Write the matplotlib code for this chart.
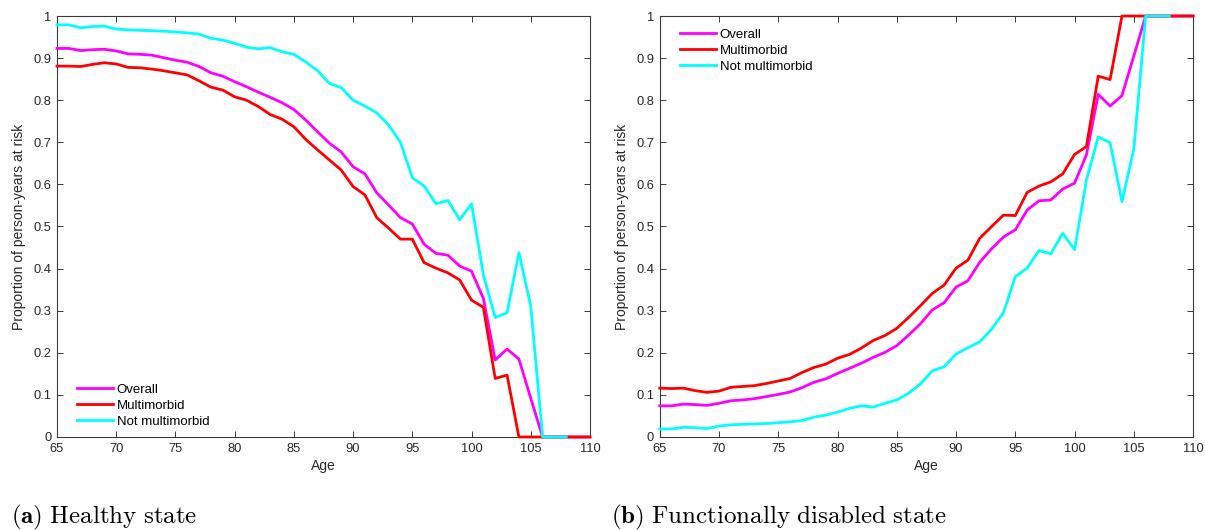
import numpy as np
import matplotlib
matplotlib.use("Agg")
import matplotlib.pyplot as plt
from matplotlib.ticker import FuncFormatter

nan = np.nan
ages = list(range(65, 111))

# (a) healthy state
healthy_overall = [0.923, 0.923, 0.918, 0.920, 0.921, 0.917, 0.910, 0.909, 0.907, 0.901,
                   0.895, 0.890, 0.880, 0.865, 0.857, 0.844, 0.832, 0.819, 0.807, 0.794,
                   0.778, 0.753, 0.725, 0.698, 0.677, 0.642, 0.625, 0.580, 0.551, 0.521,
                   0.506, 0.458, 0.436, 0.432, 0.406, 0.394, 0.329, 0.183, 0.209, 0.185,
                   0.092, 0, 0, 0, 0, 0]
healthy_multi = [0.881, 0.881, 0.880, 0.885, 0.889, 0.886, 0.878, 0.877, 0.874, 0.870,
                 0.865, 0.860, 0.846, 0.831, 0.824, 0.808, 0.800, 0.785, 0.766, 0.755,
                 0.737, 0.707, 0.682, 0.658, 0.634, 0.595, 0.575, 0.521, 0.496, 0.470,
                 0.470, 0.414, 0.401, 0.390, 0.373, 0.325, 0.308, 0.139, 0.147, 0,
                 0, 0, 0, 0, 0, 0]
healthy_notmulti = [0.979, 0.979, 0.972, 0.975, 0.976, 0.969, 0.967, 0.966, 0.965, 0.964,
                    0.962, 0.960, 0.957, 0.947, 0.943, 0.935, 0.926, 0.922, 0.925, 0.915,
                    0.909, 0.891, 0.870, 0.840, 0.830, 0.800, 0.786, 0.770, 0.741, 0.700,
                    0.616, 0.596, 0.554, 0.562, 0.516, 0.554, 0.385, 0.284, 0.295, 0.438,
                    0.311, 0, 0, 0, nan, nan]

# (b) functionally disabled state
disabled_overall = [0.074, 0.074, 0.078, 0.077, 0.075, 0.080, 0.086, 0.088, 0.091, 0.096,
                    0.101, 0.107, 0.117, 0.130, 0.138, 0.151, 0.163, 0.175, 0.189, 0.201,
                    0.217, 0.242, 0.269, 0.302, 0.319, 0.356, 0.371, 0.415, 0.447, 0.475,
                    0.492, 0.539, 0.561, 0.563, 0.589, 0.603, 0.670, 0.814, 0.786, 0.811,
                    0.905, 1, 1, 1, 1, 1]
disabled_multi = [0.116, 0.115, 0.116, 0.110, 0.106, 0.109, 0.118, 0.120, 0.122, 0.127,
                  0.133, 0.139, 0.153, 0.165, 0.173, 0.187, 0.196, 0.211, 0.229, 0.241,
                  0.258, 0.284, 0.312, 0.341, 0.361, 0.401, 0.420, 0.472, 0.500, 0.527,
                  0.526, 0.581, 0.596, 0.606, 0.625, 0.671, 0.690, 0.857, 0.849, 1,
                  1, 1, 1, 1, 1, 1]
disabled_notmulti = [0.019, 0.019, 0.023, 0.022, 0.020, 0.026, 0.029, 0.030, 0.031, 0.032,
                     0.034, 0.036, 0.039, 0.047, 0.052, 0.059, 0.068, 0.074, 0.071, 0.080,
                     0.088, 0.104, 0.126, 0.157, 0.167, 0.197, 0.212, 0.226, 0.256, 0.295,
                     0.381, 0.401, 0.443, 0.435, 0.484, 0.445, 0.610, 0.713, 0.699, 0.559,
                     0.684, 1, 1, 1, nan, nan]

labels = ["Overall", "Multimorbid", "Not multimorbid"]
colors = ["#ff00ff", "#ff0000", "#00ffff"]
captions = [r"$\mathbf{(a)}\ \mathrm{Healthy\ state}$",
            r"$\mathbf{(b)}\ \mathrm{Functionally\ disabled\ state}$"]

plt.rcParams["font.family"] = ["Liberation Sans", "DejaVu Sans"]
plt.rcParams["mathtext.fontset"] = "cm"
axcol = "#3a3a3a"

fig = plt.figure(figsize=(12.05, 5.30), dpi=100)
ax1 = fig.add_axes([0.0473, 0.1755, 0.4423, 0.7943])
ax2 = fig.add_axes([0.5475, 0.1755, 0.4426, 0.7943])


def draw_panel(ax, series, legend_loc, legend_anchor):
    for vals, lab, col in zip(series, labels, colors):
        # no clipping so the lines sitting on 0 and 1 keep their full width
        ax.plot(ages, vals, color=col, lw=2.0, label=lab, clip_on=False, zorder=3)
    ax.set_xlim(65, 110)
    ax.set_ylim(0, 1)
    ax.set_xticks(range(65, 111, 5))
    ax.set_yticks(np.arange(0, 1.01, 0.1))
    ax.yaxis.set_major_formatter(FuncFormatter(lambda v, _: f"{v:g}"))
    ax.tick_params(direction="in", length=4.5, width=0.7, top=True, right=True,
                   colors=axcol, labelcolor="#262626", labelsize=9.3, pad=4)
    for sp in ax.spines.values():
        sp.set_color(axcol)
        sp.set_linewidth(0.8)
        sp.set_zorder(2)
    ax.set_xlabel("Age", fontsize=10, color="#262626", labelpad=3)
    ax.set_ylabel("Proportion of person-years at risk", fontsize=10,
                  color="#262626", labelpad=5)
    ax.legend(loc=legend_loc, bbox_to_anchor=legend_anchor, frameon=False,
              fontsize=9.5, handlelength=2.7, handletextpad=0.3,
              labelspacing=0.28, borderpad=0, borderaxespad=0)


draw_panel(ax1, [healthy_overall, healthy_multi, healthy_notmulti],
           "lower left", (0.0375, 0.022))
draw_panel(ax2, [disabled_overall, disabled_multi, disabled_notmulti],
           "upper left", (0.038, 0.970))

# captions under each panel
fig.text(0.009, 0.012, captions[0], fontsize=18, va="baseline")
fig.text(0.507, 0.012, captions[1], fontsize=18, va="baseline")

plt.savefig("out.png", dpi=100)
